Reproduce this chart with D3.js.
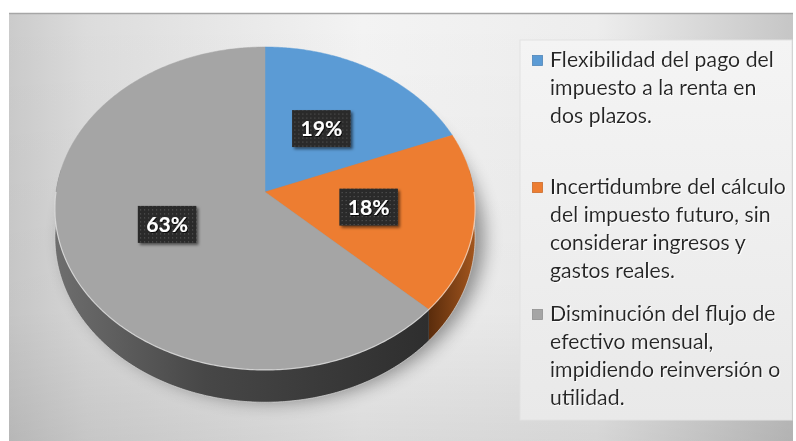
<!DOCTYPE html>
<html>
<head>
<meta charset="utf-8">
<script src="https://cdn.jsdelivr.net/npm/d3@7"></script>
<style>
  body { margin: 0; background: #fff; }
  svg { display: block; }
</style>
</head>
<body>
<div id="chart"></div>
<script>
// chart data
let categories = [
    "Flexibilidad del pago del impuesto a la renta en dos plazos.",
    "Incertidumbre del cálculo del impuesto futuro, sin considerar ingresos y gastos reales.",
    "Disminución del flujo de efectivo mensual, impidiendo reinversión o utilidad."
];
let legendLines = [
    ["Flexibilidad del pago del", "impuesto a la renta en", "dos plazos."],
    ["Incertidumbre del cálculo", "del impuesto futuro, sin", "considerar ingresos y", "gastos reales."],
    ["Disminución del flujo de", "efectivo mensual,", "impidiendo reinversión o", "utilidad."]
];
let values = [19, 18, 63];
let percentLabels = ["19%", "18%", "63%"];

let colors = ["#5b9bd5", "#ed7d31", "#a5a5a5"];
let sideColors = [["#2f5f8c", "#4a7fb0"], ["#5a2c0c", "#a3561e"], ["#6e6e6e", "#2e2e2e"]];

//set canvas
let svgWidth = 796;
let svgHeight = 441;

let svg = d3.select("#chart")
    .append("svg")
    .attr("width", svgWidth)
    .attr("height", svgHeight);

let defs = svg.append("defs");

// background gradients
let bgGrad = defs.append("linearGradient").attr("id", "bgGrad");
[[0, "#cbcbcb"], [0.1, "#dcdcdc"], [0.45, "#f3f3f3"], [0.75, "#ededed"], [1, "#c6c6c6"]]
    .forEach(s => bgGrad.append("stop").attr("offset", s[0]).attr("stop-color", s[1]));

let bgShade = defs.append("linearGradient").attr("id", "bgShade")
    .attr("x1", 0).attr("x2", 0).attr("y1", 0).attr("y2", 1);
bgShade.append("stop").attr("offset", 0).attr("stop-color", "#000").attr("stop-opacity", 0);
bgShade.append("stop").attr("offset", 0.7).attr("stop-color", "#000").attr("stop-opacity", 0.03);
bgShade.append("stop").attr("offset", 1).attr("stop-color", "#000").attr("stop-opacity", 0.1);

let legGrad = defs.append("linearGradient").attr("id", "legGrad")
    .attr("x1", 0).attr("x2", 0).attr("y1", 0).attr("y2", 1);
legGrad.append("stop").attr("offset", 0).attr("stop-color", "#f4f4f4");
legGrad.append("stop").attr("offset", 1).attr("stop-color", "#e9e9e9");

// filters
let blur = defs.append("filter").attr("id", "pieShadow")
    .attr("x", "-20%").attr("y", "-20%").attr("width", "140%").attr("height", "140%");
blur.append("feGaussianBlur").attr("stdDeviation", 9);

let boxShadow = defs.append("filter").attr("id", "boxShadow")
    .attr("x", "-30%").attr("y", "-30%").attr("width", "160%").attr("height", "160%");
boxShadow.append("feDropShadow").attr("dx", 2).attr("dy", 2)
    .attr("stdDeviation", 1.5).attr("flood-color", "#000").attr("flood-opacity", 0.55);

let textShadow = defs.append("filter").attr("id", "textShadow")
    .attr("x", "-10%").attr("y", "-20%").attr("width", "120%").attr("height", "140%");
textShadow.append("feDropShadow").attr("dx", 1).attr("dy", 1)
    .attr("stdDeviation", 0.6).attr("flood-color", "#000").attr("flood-opacity", 0.8);

let legShadow = defs.append("filter").attr("id", "legShadow")
    .attr("x", "-5%").attr("y", "-20%").attr("width", "110%").attr("height", "140%");
legShadow.append("feDropShadow").attr("dx", 1).attr("dy", 1)
    .attr("stdDeviation", 0.7).attr("flood-color", "#fff").attr("flood-opacity", 0.9);

// dotted fill for the data label boxes
let dots = defs.append("pattern").attr("id", "dots")
    .attr("width", 4).attr("height", 4).attr("patternUnits", "userSpaceOnUse");
dots.append("rect").attr("width", 4).attr("height", 4).attr("fill", "#2b2b2b");
dots.append("rect").attr("x", 1).attr("y", 1).attr("width", 1).attr("height", 1).attr("fill", "#5e5e5e");

// chart area frame
svg.append("rect")
    .attr("x", 9).attr("y", 13)
    .attr("width", svgWidth - 12).attr("height", svgHeight - 13)
    .attr("fill", "url(#bgGrad)");
svg.append("rect")
    .attr("x", 9).attr("y", 13)
    .attr("width", svgWidth - 12).attr("height", svgHeight - 13)
    .attr("fill", "url(#bgShade)");
svg.append("line")
    .attr("x1", 9).attr("x2", svgWidth - 3)
    .attr("y1", 13.5).attr("y2", 13.5)
    .attr("stroke", "#a6a6a6").attr("stroke-width", 1.5);

// perspective projection of the pie plane
let cx = 265, cy = 192;      // projected pie centre
let rxB = 209, ryA = 159.8;  // horizontal / vertical radii
let persp = 0.102;           // perspective strength
let depth = 29;              // pie thickness

function project(angle, r) {
    let u = r * Math.cos(angle);
    let s = 1 / (1 + persp * u);
    return [cx + rxB * r * Math.sin(angle) * s, cy - ryA * u * s, s];
}

function rimPoints(a0, a1) {
    let n = Math.max(2, Math.ceil((a1 - a0) / 0.01));
    return d3.range(n + 1).map(i => project(a0 + (a1 - a0) * i / n, 1));
}

let line = d3.line();

let pie = d3.pie().sort(null).value(d => d)(values);

let pieGroup = svg.append("g");

// soft shadow below the pie
let outline = rimPoints(0, 2 * Math.PI).map(p => [p[0] + 9, p[1] + depth * p[2] * 0.7 + 9]);
pieGroup.append("path")
    .attr("d", line(outline) + "Z")
    .attr("fill", "#000")
    .attr("opacity", 0.4)
    .attr("filter", "url(#pieShadow)");

// side walls (front half only)
let frontStart = Math.PI / 2 - 0.15, frontEnd = 3 * Math.PI / 2 + 0.15;
pie.forEach((d, i) => {
    let a0 = Math.max(d.startAngle, frontStart);
    let a1 = Math.min(d.endAngle, frontEnd);
    if (a1 <= a0) return;
    let top = rimPoints(a0, a1);
    let bottom = top.map(p => [p[0], p[1] + depth * p[2]]).reverse();
    let xs = top.map(p => p[0]);
    let gid = "side" + i;
    let g = defs.append("linearGradient").attr("id", gid)
        .attr("gradientUnits", "userSpaceOnUse")
        .attr("x1", d3.min(xs)).attr("x2", d3.max(xs))
        .attr("y1", 0).attr("y2", 0);
    g.append("stop").attr("offset", 0).attr("stop-color", sideColors[i][0]);
    if (i === 2) g.append("stop").attr("offset", 0.4).attr("stop-color", "#474747");
    g.append("stop").attr("offset", 1).attr("stop-color", sideColors[i][1]);
    pieGroup.append("path")
        .attr("d", line(top.map(p => [p[0], p[1]]).concat(bottom)) + "Z")
        .attr("fill", `url(#${gid})`);
});

// bottom rim highlight
pieGroup.append("path")
    .attr("d", line(rimPoints(Math.PI / 2, 3 * Math.PI / 2).map(p => [p[0], p[1] + depth * p[2]])))
    .attr("fill", "none")
    .attr("stroke", "#d8d8d8")
    .attr("stroke-opacity", 0.7)
    .attr("stroke-width", 1);

// top faces
pie.forEach((d, i) => {
    let pts = [[cx, cy]].concat(rimPoints(d.startAngle, d.endAngle).map(p => [p[0], p[1]]));
    pieGroup.append("path")
        .attr("d", line(pts) + "Z")
        .attr("fill", colors[i])
        .attr("stroke", colors[i])
        .attr("stroke-width", 0.5);
});

// bevel highlight on the front edge of the top face
pieGroup.append("path")
    .attr("d", line(rimPoints(Math.PI / 2, 3 * Math.PI / 2).map(p => [p[0], p[1]])))
    .attr("fill", "none")
    .attr("stroke", "#ffffff")
    .attr("stroke-opacity", 0.55)
    .attr("stroke-width", 1.2);

// data labels
let labelGroup = svg.append("g");
pie.forEach((d, i) => {
    let mid = (d.startAngle + d.endAngle) / 2;
    let p = project(mid, 0.5);
    let g = labelGroup.append("g").attr("transform", `translate(${p[0]}, ${p[1]})`);
    let box = g.append("rect");
    let t = g.append("text")
        .attr("text-anchor", "middle")
        .attr("dy", "0.36em")
        .attr("fill", "#fff")
        .attr("font-family", "Lato, 'Open Sans', sans-serif")
        .attr("font-weight", "bold")
        .attr("font-size", 21)
        .attr("filter", "url(#textShadow)")
        .text(percentLabels[i]);
    let w = t.node().getComputedTextLength() + 17;
    let h = 37;
    box.attr("x", -w / 2).attr("y", -h / 2)
        .attr("width", w).attr("height", h)
        .attr("fill", "url(#dots)")
        .attr("filter", "url(#boxShadow)");
});

// legend
let legX = 520, legY = 40, legW = 272, legH = 380;
svg.append("rect")
    .attr("x", legX).attr("y", legY)
    .attr("width", legW).attr("height", legH)
    .attr("fill", "url(#legGrad)")
    .attr("stroke", "#e2e2e2")
    .attr("stroke-width", 1);

let legendGroup = svg.append("g");

// fit legend font so the widest line matches the reference width
let probe = legendGroup.append("text")
    .attr("font-family", "Lato, 'Open Sans', sans-serif")
    .attr("font-size", 20);
let widest = d3.max(legendLines.flat(), l => probe.text(l).node().getComputedTextLength());
let legFont = 20 * 236 / widest;
probe.remove();

let firstBaseline = 67, itemStep = 127, lineStep = 28;
legendLines.forEach((lines, i) => {
    let base = firstBaseline + i * itemStep;
    legendGroup.append("rect")
        .attr("x", 532.5).attr("y", base - 11.5)
        .attr("width", 10).attr("height", 10)
        .attr("fill", colors[i])
        .attr("stroke", d3.color(colors[i]).darker(0.4))
        .attr("stroke-width", 0.8)
        .append("title").text(categories[i]);
    let t = legendGroup.append("text")
        .attr("x", 550)
        .attr("y", base)
        .attr("fill", "#262626")
        .attr("font-family", "Lato, 'Open Sans', sans-serif")
        .attr("font-size", legFont)
        .attr("filter", "url(#legShadow)");
    lines.forEach((l, j) => {
        t.append("tspan")
            .attr("x", 550)
            .attr("y", base + j * lineStep)
            .text(l);
    });
});
</script>
</body>
</html>
